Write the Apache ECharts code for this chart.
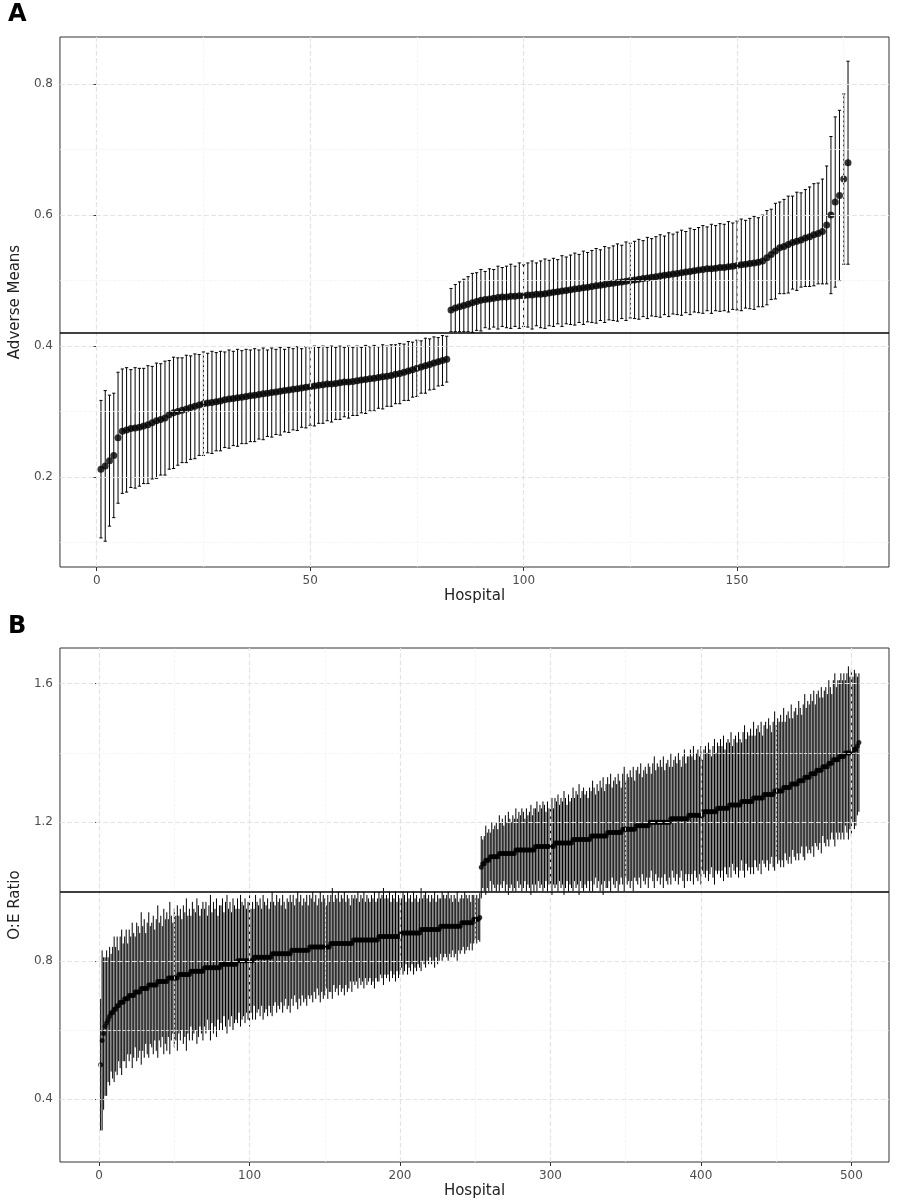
<!DOCTYPE html>
<html>
<head>
<meta charset="utf-8">
<script src="https://cdn.jsdelivr.net/npm/echarts@6/dist/echarts.min.js"></script>
<style>
  html, body { margin: 0; padding: 0; background: #fff; }
  #chart { width: 898px; height: 1200px; }
</style>
</head>
<body>
<div id="chart"></div>
<script>
// Panel A: adverse means per hospital (sorted) and CI half-widths
let meansA = [
  .212,.217,.225,.233,.26,.27,
  .272,.274,.275,.276,.278,.28,
  .283,.286,.288,.29,.295,.298,.30,.302,
  .304,.306,.308,.31,.312,.313,.314,.315,.316,.318,
  .319,.32,.321,.322,.323,.324,.325,.326,.327,.328,
  .329,.33,.331,.332,.333,.334,.335,.336,.337,.338,
  .339,.34,.341,.342,.342,.343,.344,.345,.345,.346,
  .347,.348,.349,.35,.351,.352,.353,.354,.355,.357,
  .358,.36,.362,.364,.366,.368,.37,.372,.374,.376,.378,.38,
  .455,.458,.46,.462,.464,.466,.468,.47,.471,.472,
  .473,.474,.475,.475,.476,.476,.477,.477,.478,.478,
  .479,.479,.48,.481,.482,.483,.484,.485,.486,.487,
  .488,.489,.49,.491,.492,.493,.494,.495,.496,.497,
  .498,.499,.50,.501,.502,.503,.504,.505,.506,.507,
  .508,.509,.51,.511,.512,.513,.514,.515,.516,.517,
  .518,.518,.519,.52,.52,.521,.522,.523,.524,.525,
  .526,.527,.528,.53,.535,.54,.545,.55,.552,.555,
  .558,.56,.562,.565,.567,.57,.572,.575,
  .585,.60,.62,.63,.655,.68
];
let errA = [
  .105,.115,.10,.095,.10,.095,.095,.09,.092,.09,
  .088,.09,.086,.088,.085,.087,.083,.085,.082,.08,
  .082,.079,.08,.077,.079,.076,.078,.075,.076,.073,
  .075,.072,.074,.071,.072,.07,.071,.068,.07,.066,
  .068,.065,.067,.063,.065,.062,.064,.06,.062,.059,
  .061,.058,.059,.056,.058,.055,.056,.053,.055,.052,
  .053,.05,.052,.049,.05,.047,.049,.046,.047,.045,
  .046,.043,.045,.042,.043,.04,.042,.039,.04,.037,.038,.035,
  .033,.036,.038,.04,.042,.045,.044,.047,.043,.046,
  .044,.048,.045,.047,.049,.046,.05,.047,.049,.052,
  .048,.051,.053,.05,.052,.049,.054,.051,.053,.055,
  .052,.056,.053,.055,.057,.054,.058,.055,.057,.059,
  .056,.06,.057,.059,.061,.058,.062,.059,.061,.063,
  .06,.064,.061,.063,.065,.062,.066,.063,.065,.067,
  .064,.068,.065,.067,.066,.069,.066,.068,.07,.067,
  .069,.071,.068,.07,.072,.069,.073,.07,.072,.074,
  .071,.075,.072,.074,.076,.078,.077,.08,
  .09,.12,.13,.13,.13,.155
];
let refA = 0.417;

// Panel B: O:E ratio per hospital (sorted) and CI half-widths
let meansB = [
  .50,.57,.59,.61,.62,.63,.64,.65,.65,.66,
  .66,.67,.67,.68,.68,.68,.69,.69,.69,.70,
  .70,.70,.70,.71,.71,.71,.71,.72,.72,.72,
  .72,.72,.73,.73,.73,.73,.73,.73,.74,.74,
  .74,.74,.74,.74,.74,.75,.75,.75,.75,.75,
  .75,.75,.76,.76,.76,.76,.76,.76,.76,.76,
  .77,.77,.77,.77,.77,.77,.77,.77,.77,.78,
  .78,.78,.78,.78,.78,.78,.78,.78,.78,.78,
  .79,.79,.79,.79,.79,.79,.79,.79,.79,.79,
  .79,.80,.80,.80,.80,.80,.80,.80,.80,.80,
  .80,.80,.81,.81,.81,.81,.81,.81,.81,.81,
  .81,.81,.81,.81,.82,.82,.82,.82,.82,.82,
  .82,.82,.82,.82,.82,.82,.82,.83,.83,.83,
  .83,.83,.83,.83,.83,.83,.83,.83,.83,.84,
  .84,.84,.84,.84,.84,.84,.84,.84,.84,.84,
  .84,.84,.84,.85,.85,.85,.85,.85,.85,.85,
  .85,.85,.85,.85,.85,.85,.85,.85,.86,.86,
  .86,.86,.86,.86,.86,.86,.86,.86,.86,.86,
  .86,.86,.86,.86,.86,.87,.87,.87,.87,.87,
  .87,.87,.87,.87,.87,.87,.87,.87,.87,.87,
  .88,.88,.88,.88,.88,.88,.88,.88,.88,.88,
  .88,.88,.88,.89,.89,.89,.89,.89,.89,.89,
  .89,.89,.89,.89,.89,.89,.90,.90,.90,.90,
  .90,.90,.90,.90,.90,.90,.90,.90,.90,.90,
  .91,.91,.91,.91,.91,.91,.91,.91,.92,.92,
  .92,.92,.925,
  1.07,1.08,1.08,1.09,1.09,1.09,1.10,1.10,1.10,1.10,
  1.10,1.10,1.11,1.11,1.11,1.11,1.11,1.11,1.11,1.11,
  1.11,1.11,1.11,1.12,1.12,1.12,1.12,1.12,1.12,1.12,
  1.12,1.12,1.12,1.12,1.12,1.12,1.13,1.13,1.13,1.13,
  1.13,1.13,1.13,1.13,1.13,1.13,1.13,1.13,1.13,1.14,
  1.14,1.14,1.14,1.14,1.14,1.14,1.14,1.14,1.14,1.14,
  1.14,1.15,1.15,1.15,1.15,1.15,1.15,1.15,1.15,1.15,
  1.15,1.15,1.15,1.16,1.16,1.16,1.16,1.16,1.16,1.16,
  1.16,1.16,1.16,1.16,1.17,1.17,1.17,1.17,1.17,1.17,
  1.17,1.17,1.17,1.17,1.18,1.18,1.18,1.18,1.18,1.18,
  1.18,1.18,1.18,1.19,1.19,1.19,1.19,1.19,1.19,1.19,
  1.19,1.19,1.20,1.20,1.20,1.20,1.20,1.20,1.20,1.20,
  1.20,1.20,1.20,1.20,1.20,1.20,1.21,1.21,1.21,1.21,
  1.21,1.21,1.21,1.21,1.21,1.21,1.21,1.21,1.22,1.22,
  1.22,1.22,1.22,1.22,1.22,1.22,1.22,1.22,1.23,1.23,
  1.23,1.23,1.23,1.23,1.23,1.23,1.23,1.24,1.24,1.24,
  1.24,1.24,1.24,1.24,1.24,1.25,1.25,1.25,1.25,1.25,
  1.25,1.25,1.25,1.26,1.26,1.26,1.26,1.26,1.26,1.26,
  1.26,1.27,1.27,1.27,1.27,1.27,1.27,1.27,1.28,1.28,
  1.28,1.28,1.28,1.28,1.28,1.29,1.29,1.29,1.29,1.29,
  1.29,1.30,1.30,1.30,1.30,1.30,1.31,1.31,1.31,1.31,
  1.31,1.32,1.32,1.32,1.32,1.33,1.33,1.33,1.33,1.34,
  1.34,1.34,1.34,1.35,1.35,1.35,1.35,1.36,1.36,1.36,
  1.36,1.37,1.37,1.37,1.38,1.38,1.38,1.38,1.39,1.39,
  1.39,1.39,1.40,1.40,1.40,1.40,1.40,1.41,1.41,1.41,
  1.42,1.43
];
let errB = [
  .19,.26,.22,.20,.21,.18,.20,.17,.19,.21,
  .18,.20,.16,.19,.21,.17,.18,.20,.16,.19,
  .17,.21,.18,.16,.20,.19,.17,.22,.18,.20,
  .16,.19,.21,.17,.18,.20,.16,.19,.22,.17,
  .19,.16,.21,.18,.20,.17,.22,.18,.16,.20,
  .18,.21,.17,.19,.16,.20,.18,.22,.17,.19,
  .16,.20,.18,.17,.21,.19,.16,.18,.20,.17,
  .19,.15,.18,.21,.16,.19,.17,.20,.15,.18,
  .17,.19,.15,.18,.20,.16,.18,.15,.19,.17,
  .16,.18,.15,.19,.17,.16,.18,.15,.17,.19,
  .15,.17,.14,.18,.16,.15,.17,.14,.18,.16,
  .15,.17,.14,.16,.18,.15,.14,.17,.15,.16,
  .14,.17,.15,.13,.16,.15,.17,.14,.16,.13,
  .15,.17,.14,.16,.13,.15,.14,.16,.13,.15,
  .14,.16,.13,.15,.12,.14,.16,.13,.15,.14,
  .12,.15,.13,.14,.16,.12,.14,.13,.15,.12,
  .14,.13,.15,.12,.14,.13,.11,.14,.12,.13,
  .12,.14,.11,.13,.12,.14,.11,.13,.12,.11,
  .13,.12,.14,.11,.12,.13,.11,.12,.14,.11,
  .12,.11,.13,.10,.12,.11,.13,.10,.12,.11,
  .10,.12,.11,.09,.12,.10,.11,.09,.12,.10,
  .11,.09,.10,.12,.09,.10,.11,.09,.10,.08,
  .10,.09,.11,.08,.10,.09,.08,.10,.09,.08,
  .09,.10,.08,.09,.07,.09,.08,.10,.07,.08,
  .08,.07,.09,.08,.07,.08,.06,.08,.07,.06,
  .07,.06,.07,
  .09,.07,.08,.10,.08,.09,.07,.10,.08,.09,
  .10,.08,.11,.09,.10,.08,.11,.09,.12,.10,
  .09,.11,.10,.12,.09,.11,.10,.12,.11,.09,
  .12,.10,.11,.13,.10,.12,.11,.13,.10,.12,
  .11,.13,.12,.10,.13,.11,.12,.14,.11,.13,
  .12,.14,.11,.13,.12,.15,.13,.11,.14,.12,
  .13,.15,.12,.14,.13,.16,.12,.14,.15,.13,
  .14,.12,.15,.13,.16,.14,.12,.15,.13,.16,
  .14,.17,.13,.15,.16,.14,.17,.13,.15,.16,
  .14,.17,.15,.13,.16,.18,.14,.16,.15,.17,
  .15,.18,.14,.16,.17,.15,.18,.14,.16,.17,
  .15,.18,.16,.14,.17,.19,.15,.17,.16,.18,
  .16,.19,.15,.17,.18,.16,.19,.15,.17,.18,
  .16,.19,.17,.15,.18,.20,.16,.18,.17,.19,
  .17,.20,.16,.18,.19,.17,.20,.16,.18,.19,
  .17,.20,.18,.16,.19,.21,.17,.19,.18,.20,
  .18,.21,.17,.19,.20,.18,.21,.17,.19,.20,
  .18,.21,.19,.17,.20,.22,.18,.20,.19,.21,
  .19,.22,.18,.20,.21,.19,.22,.18,.20,.21,
  .19,.22,.20,.18,.21,.23,.19,.21,.20,.22,
  .20,.23,.19,.21,.22,.20,.23,.19,.21,.22,
  .20,.23,.21,.19,.22,.24,.20,.22,.21,.23,
  .21,.24,.20,.22,.23,.21,.24,.20,.22,.23,
  .21,.24,.22,.20,.23,.25,.21,.23,.22,.24,
  .22,.24,.21,.23,.25,.22,.24,.21,.23,.22,
  .20,.20
];
let refB = 1.0;

let xTicksA = [0, 50, 100, 150];
let xMinorA = [25, 75, 125, 175];
let yTicksA = [0.2, 0.4, 0.6, 0.8];
let yMinorA = [0.1, 0.3, 0.5, 0.7];
let xTicksB = [0, 100, 200, 300, 400, 500];
let xMinorB = [50, 150, 250, 350, 450];
let yTicksB = [0.4, 0.8, 1.2, 1.6];
let yMinorB = [0.6, 1.0, 1.4];

function buildBars(means, errs) {
    return means.map(function (m, i) { return [i + 1, +(m - errs[i]).toFixed(3), +(m + errs[i]).toFixed(3)]; });
}
function buildPoints(means) {
    return means.map(function (m, i) { return [i + 1, m]; });
}

function errorItem(capHalf) {
    return function (params, api) {
        let x = api.value(0);
        let lo = api.coord([x, api.value(1)]);
        let hi = api.coord([x, api.value(2)]);
        let style = {stroke: '#000', lineWidth: 1};
        let children = [{type: 'line', shape: {x1: lo[0], y1: lo[1], x2: hi[0], y2: hi[1]}, style: style}];
        if (capHalf > 0) {
            children.push({type: 'line', shape: {x1: lo[0] - capHalf, y1: lo[1], x2: lo[0] + capHalf, y2: lo[1]}, style: style});
            children.push({type: 'line', shape: {x1: hi[0] - capHalf, y1: hi[1], x2: hi[0] + capHalf, y2: hi[1]}, style: style});
        }
        return {type: 'group', children: children};
    };
}

function gridLines(idx, xMajor, xMinor, yMajor, yMinor) {
    let data = [];
    xMinor.forEach(function (v) { data.push({xAxis: v, lineStyle: {color: '#f2f2f2', width: 0.8}}); });
    yMinor.forEach(function (v) { data.push({yAxis: v, lineStyle: {color: '#f2f2f2', width: 0.8}}); });
    xMajor.forEach(function (v) { data.push({xAxis: v, lineStyle: {color: '#e3e3e3', width: 1.2}}); });
    yMajor.forEach(function (v) { data.push({yAxis: v, lineStyle: {color: '#e3e3e3', width: 1.2}}); });
    return {
        type: 'line', xAxisIndex: idx, yAxisIndex: idx, data: [], silent: true, z: 0,
        markLine: {silent: true, symbol: 'none', label: {show: false}, animation: false, data: data}
    };
}

function xAxisDef(idx, min, max, ticks) {
    return {
        type: 'value', gridIndex: idx, min: min, max: max,
        name: 'Hospital', nameLocation: 'middle', nameGap: 22,
        nameTextStyle: {fontSize: 15, color: '#222', fontFamily: 'DejaVu Sans'},
        axisLine: {show: false},
        axisTick: {show: true, length: 4, customValues: ticks, lineStyle: {color: '#333'}},
        axisLabel: {customValues: ticks, color: '#4d4d4d', fontSize: 12, margin: 8, fontFamily: 'DejaVu Sans'},
        splitLine: {show: false}
    };
}
function yAxisDef(idx, min, max, ticks, name) {
    return {
        type: 'value', gridIndex: idx, min: min, max: max,
        name: name, nameLocation: 'middle', nameGap: 36,
        nameTextStyle: {fontSize: 15, color: '#222', fontFamily: 'DejaVu Sans'},
        axisLine: {show: false},
        axisTick: {show: true, length: 4, customValues: ticks, lineStyle: {color: '#333'}},
        axisLabel: {customValues: ticks, color: '#4d4d4d', fontSize: 12, margin: 7, fontFamily: 'DejaVu Sans',
            formatter: function (v) { return v.toFixed(1); }},
        splitLine: {show: false}
    };
}

let chart = echarts.init(document.getElementById('chart'));
let option = {
    backgroundColor: '#fff',
    animation: false,
    title: [
        {text: 'A', left: 3, top: -2, textStyle: {fontSize: 24, fontWeight: 'bold', color: '#000', fontFamily: 'DejaVu Sans'}},
        {text: 'B', left: 3, top: 610, textStyle: {fontSize: 24, fontWeight: 'bold', color: '#000', fontFamily: 'DejaVu Sans'}}
    ],
    grid: [
        {left: 52, top: 37, width: 837, height: 530, show: true, borderColor: '#333', borderWidth: 1, backgroundColor: 'transparent'},
        {left: 52, top: 648, width: 837, height: 517, show: true, borderColor: '#333', borderWidth: 1, backgroundColor: 'transparent'}
    ],
    xAxis: [xAxisDef(0, -8.6, 185.6, xTicksA), xAxisDef(1, -26, 525, xTicksB)],
    yAxis: [yAxisDef(0, 0.0626, 0.872, yTicksA, 'Adverse Means'), yAxisDef(1, 0.219, 1.703, yTicksB, 'O:E Ratio')],
    series: [
        gridLines(0, xTicksA, xMinorA, yTicksA, yMinorA),
        gridLines(1, xTicksB, xMinorB, yTicksB, yMinorB),
        {
            type: 'custom', xAxisIndex: 0, yAxisIndex: 0, renderItem: errorItem(1.6),
            encode: {x: 0, y: [1, 2]}, data: buildBars(meansA, errA), z: 2
        },
        {
            type: 'scatter', xAxisIndex: 0, yAxisIndex: 0, symbolSize: 7,
            itemStyle: {color: '#000'}, data: buildPoints(meansA), z: 3
        },
        {
            type: 'line', xAxisIndex: 0, yAxisIndex: 0, data: [], z: 4,
            markLine: {silent: true, symbol: 'none', label: {show: false},
                lineStyle: {color: '#000', width: 1.5, type: 'solid'}, data: [{yAxis: refA}]}
        },
        {
            type: 'custom', xAxisIndex: 1, yAxisIndex: 1, renderItem: errorItem(0),
            encode: {x: 0, y: [1, 2]}, data: buildBars(meansB, errB), z: 2
        },
        {
            type: 'scatter', xAxisIndex: 1, yAxisIndex: 1, symbolSize: 5,
            itemStyle: {color: '#000'}, data: buildPoints(meansB), z: 3
        },
        {
            type: 'line', xAxisIndex: 1, yAxisIndex: 1, data: [], z: 4,
            markLine: {silent: true, symbol: 'none', label: {show: false},
                lineStyle: {color: '#000', width: 1.5, type: 'solid'}, data: [{yAxis: refB}]}
        }
    ]
};
chart.setOption(option);
</script>
</body>
</html>
